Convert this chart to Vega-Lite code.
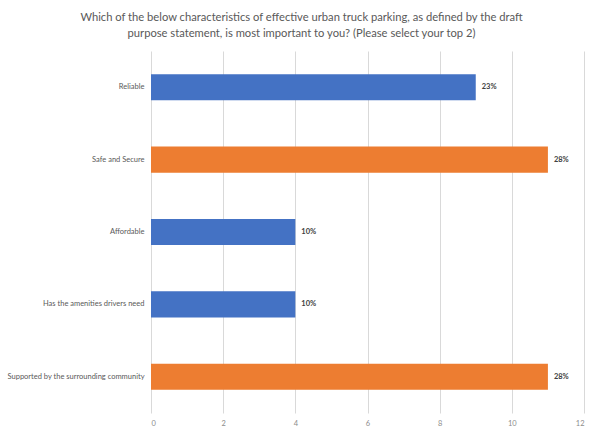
{
  "$schema": "https://vega.github.io/schema/vega-lite/v6.json",
  "autosize": "none",
  "width": 433,
  "height": 362,
  "padding": {"left": 151, "top": 51, "right": 11, "bottom": 20},
  "background": "white",
  "config": {
    "view": {"stroke": null},
    "font": "Lato"
  },
  "title": {
    "text": ["Which of the below characteristics of effective urban truck parking, as defined by the draft", "purpose statement, is most important to you? (Please select your top 2)"],
    "anchor": "middle",
    "frame": "group",
    "dx": -66,
    "offset": 12,
    "fontSize": 11.2,
    "fontWeight": "normal",
    "color": "#595959",
    "font": "Lato",
    "lineHeight": 16
  },
  "data": {
    "values": [
      {"label": "Reliable", "count": 9, "pct": "23%", "color": "blue"},
      {"label": "Safe and Secure", "count": 11, "pct": "28%", "color": "orange"},
      {"label": "Affordable", "count": 4, "pct": "10%", "color": "blue"},
      {"label": "Has the amenities drivers need", "count": 4, "pct": "10%", "color": "blue"},
      {"label": "Supported by the surrounding community", "count": 11, "pct": "28%", "color": "orange"}
    ]
  },
  "encoding": {
    "y": {
      "field": "label",
      "type": "nominal",
      "sort": null,
      "title": null,
      "scale": {"paddingInner": 0.64, "paddingOuter": 0.32},
      "axis": {"domain": false, "ticks": false, "labelFontSize": 7.5, "labelColor": "#595959", "labelPadding": 7, "labelFont": "Lato", "labelLimit": 200}
    },
    "x": {
      "field": "count",
      "type": "quantitative",
      "title": null,
      "scale": {"domain": [0, 12]},
      "axis": {"values": [0, 2, 4, 6, 8, 10, 12], "domain": false, "ticks": false, "grid": true, "gridColor": "#d9d9d9", "gridWidth": 1, "labelFontSize": 7.5, "labelColor": "#8c8c8c", "labelPadding": 6, "labelFont": "Lato"}
    }
  },
  "layer": [
    {
      "mark": {"type": "bar"},
      "encoding": {
        "color": {
          "field": "color",
          "type": "nominal",
          "scale": {"domain": ["blue", "orange"], "range": ["#4472C4", "#ED7D31"]},
          "legend": null
        }
      }
    },
    {
      "mark": {"type": "text", "align": "left", "dx": 6, "fontSize": 7.5, "fontWeight": "bold", "color": "#404040", "font": "Lato"},
      "encoding": {"text": {"field": "pct"}}
    }
  ]
}
